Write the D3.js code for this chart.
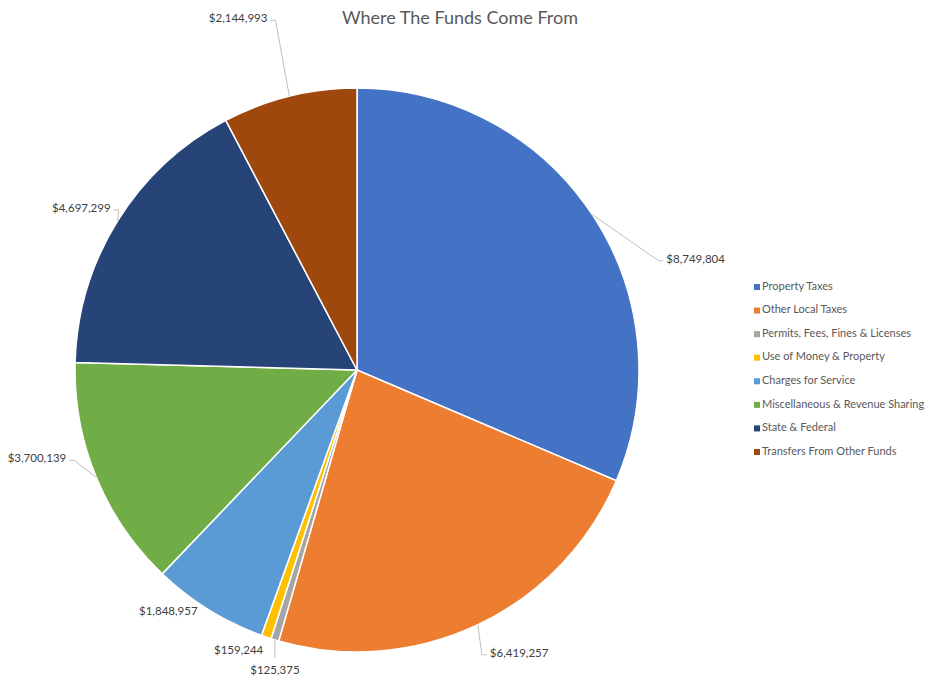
<!DOCTYPE html>
<html>
<head>
<meta charset="utf-8">
<script src="https://cdn.jsdelivr.net/npm/d3@7"></script>
<style>
  body { margin: 0; background: #fff; }
  svg { font-family: Lato, "Open Sans", sans-serif; }
</style>
</head>
<body>
<div id="chart"></div>
<script>
// data
const categories = [
  "Property Taxes",
  "Other Local Taxes",
  "Permits, Fees, Fines & Licenses",
  "Use of Money & Property",
  "Charges for Service",
  "Miscellaneous & Revenue Sharing",
  "State & Federal",
  "Transfers From Other Funds"
];
const amounts = [8749804, 6419257, 125375, 159244, 1848957, 3700139, 4697299, 2144993];
const colors = ["#4472C4", "#ED7D31", "#A5A5A5", "#FFC000", "#5B9BD5", "#70AD47", "#264478", "#9E480E"];

// label placement relative to the slice edge: [dx, dy, side, leader]
const labelLayout = [
  [66, 46, 1, true],
  [4, 30, 1, true],
  [0, 18, 0, true],
  [5, 15, -1, false],
  [-3, 3, -1, false],
  [-22, -17, -1, true],
  [1, -11, -1, true],
  [-14, -76, -1, true]
];

const config = {
  width: 930,
  height: 683,
  cx: 357,
  cy: 370,
  radius: 282
};

const svg = d3.select("#chart").append("svg")
  .attr("width", config.width)
  .attr("height", config.height);

svg.append("text")
  .attr("x", 460)
  .attr("y", 24)
  .attr("text-anchor", "middle")
  .attr("font-size", 18)
  .attr("fill", "#595959")
  .text("Where The Funds Come From");

const pie = d3.pie().sort(null).value(d => d.value);
const arc = d3.arc().innerRadius(0).outerRadius(config.radius);

const rows = categories.map((c, i) => ({ name: c, value: amounts[i], color: colors[i], layout: labelLayout[i] }));
const arcs = pie(rows);

const g = svg.append("g").attr("transform", `translate(${config.cx},${config.cy})`);

g.selectAll("path.slice")
  .data(arcs)
  .join("path")
    .attr("class", "slice")
    .attr("d", arc)
    .attr("fill", d => d.data.color)
    .attr("stroke", "#fff")
    .attr("stroke-width", 1.5);

const fmt = d3.format(",");

arcs.forEach(d => {
  const mid = (d.startAngle + d.endAngle) / 2;
  const ex = config.radius * Math.sin(mid);
  const ey = -config.radius * Math.cos(mid);
  const [dx, dy, side, leader] = d.data.layout;
  const bx = ex + dx, by = ey + dy;
  let tx, ty, anchor;
  if (side === 0) {
    tx = bx; ty = by + 13; anchor = "middle";
    if (leader) {
      g.append("line")
        .attr("x1", ex).attr("y1", ey)
        .attr("x2", bx).attr("y2", by)
        .attr("stroke", "#bfbfbf")
        .attr("stroke-width", 1);
    }
  } else {
    const hx = bx + side * 5;
    tx = hx + side * 3; ty = by - 1; anchor = side > 0 ? "start" : "end";
    if (leader) {
      g.append("polyline")
        .attr("points", `${ex},${ey} ${bx},${by} ${hx},${by}`)
        .attr("fill", "none")
        .attr("stroke", "#bfbfbf")
        .attr("stroke-width", 1);
    }
  }
  g.append("text")
    .attr("x", tx)
    .attr("y", ty)
    .attr("text-anchor", anchor)
    .attr("dominant-baseline", "middle")
    .attr("font-size", 11.5)
    .attr("fill", "#404040")
    .text("$" + fmt(d.data.value));
});

// legend
const legendY = d3.scalePoint()
  .domain(categories)
  .range([287, 452]);

const legend = svg.append("g").attr("class", "legend");
const item = legend.selectAll("g")
  .data(rows)
  .join("g")
    .attr("transform", d => `translate(754,${legendY(d.name)})`);

item.append("rect")
  .attr("x", 0)
  .attr("y", -3)
  .attr("width", 6)
  .attr("height", 6)
  .attr("fill", d => d.color);

item.append("text")
  .attr("x", 8)
  .attr("y", 0)
  .attr("dominant-baseline", "middle")
  .attr("font-size", 11)
  .attr("fill", "#595959")
  .text(d => d.name);
</script>
</body>
</html>
